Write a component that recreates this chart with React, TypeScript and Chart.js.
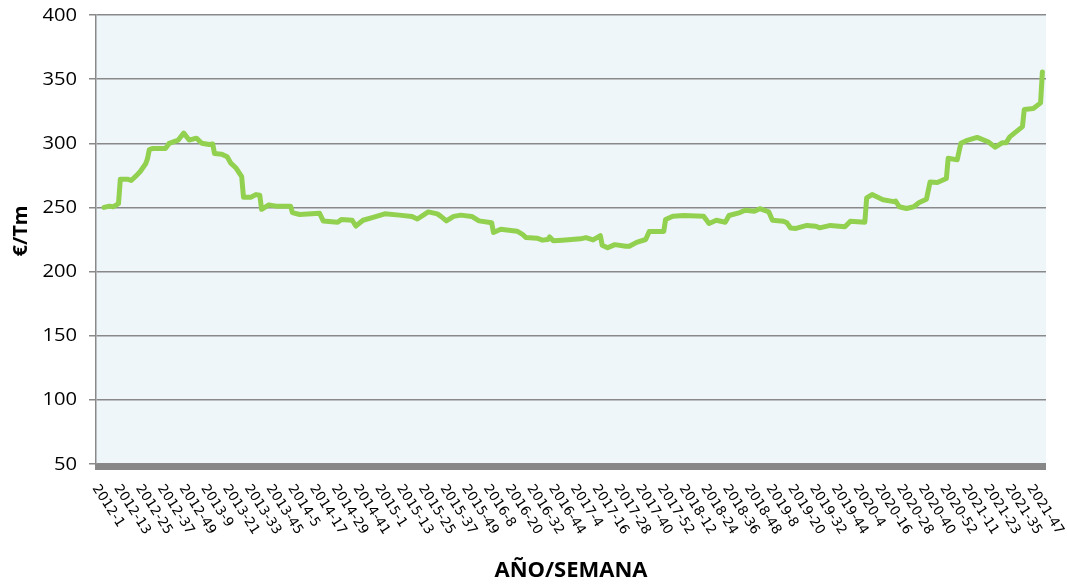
import { useEffect, useRef } from "react";
import { Chart, registerables } from "chart.js";

Chart.register(...registerables);

const tickLabels = [
  "2012-1", "2012-13", "2012-25", "2012-37", "2012-49", "2013-9", "2013-21", "2013-33", "2013-45",
  "2014-5", "2014-17", "2014-29", "2014-41", "2015-1", "2015-13", "2015-25", "2015-37", "2015-49",
  "2016-8", "2016-20", "2016-32", "2016-44", "2017-4", "2017-16", "2017-28", "2017-40", "2017-52",
  "2018-12", "2018-24", "2018-36", "2018-48", "2019-8", "2019-20", "2019-32", "2019-44", "2020-4",
  "2020-16", "2020-28", "2020-40", "2020-52", "2021-11", "2021-23", "2021-35", "2021-47",
];

const weeksPerYear: Record<number, number> = {
  2012: 52, 2013: 52, 2014: 52, 2015: 53, 2016: 52, 2017: 52, 2018: 52, 2019: 52, 2020: 53, 2021: 52,
};

const weeks = [
  "2012-1", "2012-4", "2012-6", "2012-9", "2012-10", "2012-14", "2012-16", "2012-19", "2012-21", "2012-24",
  "2012-25", "2012-26", "2012-28", "2012-35", "2012-37", "2012-42", "2012-45", "2012-48", "2012-52", "2013-3",
  "2013-7", "2013-9", "2013-10", "2013-14", "2013-17", "2013-19", "2013-22", "2013-25", "2013-26", "2013-30",
  "2013-33", "2013-35", "2013-36", "2013-40", "2013-44", "2013-52", "2014-1", "2014-5", "2014-16", "2014-18",
  "2014-26", "2014-28", "2014-34", "2014-36", "2014-40", "2014-46", "2014-52", "2015-8", "2015-15", "2015-18",
  "2015-24", "2015-29", "2015-31", "2015-34", "2015-38", "2015-42", "2015-48", "2015-52", "2016-6", "2016-7",
  "2016-11", "2016-20", "2016-23", "2016-25", "2016-31", "2016-34", "2016-37", "2016-38", "2016-40", "2016-45",
  "2016-50", "2017-3", "2017-6", "2017-10", "2017-14", "2017-15", "2017-18", "2017-22", "2017-28", "2017-30",
  "2017-34", "2017-39", "2017-41", "2017-49", "2017-50", "2018-2", "2018-8", "2018-19", "2018-22", "2018-26",
  "2018-31", "2018-33", "2018-39", "2018-42", "2018-47", "2018-50", "2019-3", "2019-5", "2019-11", "2019-13",
  "2019-15", "2019-18", "2019-24", "2019-29", "2019-31", "2019-37", "2019-45", "2019-48", "2020-4", "2020-5",
  "2020-8", "2020-14", "2020-20", "2020-21", "2020-23", "2020-27", "2020-31", "2020-34", "2020-38", "2020-40",
  "2020-44", "2020-49", "2020-50", "2021-2", "2021-4", "2021-7", "2021-13", "2021-19", "2021-23", "2021-27",
  "2021-29", "2021-31", "2021-38", "2021-39", "2021-44", "2021-48", "2021-49",
];

const prices = [
  250, 251, 250.5, 253, 272, 272, 271, 275, 278, 284,
  288, 295, 296, 296, 300, 302.5, 308, 302.5, 304, 300,
  299, 299.5, 292, 291.5, 289.5, 284.5, 280.5, 274, 258, 258,
  260, 259.5, 248.5, 252, 251, 251, 246, 244.5, 245.5, 239.5,
  238.5, 240.5, 240, 235.5, 240, 242.5, 245, 244, 243, 241,
  246.5, 245, 243, 239.5, 243, 244, 243, 239.5, 238, 230.5,
  233, 231.5, 229, 226.5, 226, 224.5, 225, 227, 224, 224.5,
  225, 225.5, 226.5, 224.7, 228, 220.5, 218.5, 221, 219.7, 219.7,
  222.8, 225, 231.3, 231.3, 240.6, 243.2, 243.7, 243.2, 237.5, 240,
  238.5, 243.7, 246, 247.8, 247, 249, 246.5, 240, 239.3, 238,
  234, 233.6, 236, 235.4, 234.1, 236, 235, 239.3, 238.5, 257.4,
  260, 256, 254.5, 255, 250.5, 249.2, 250.5, 253.8, 256.4, 269.9,
  269.4, 272.5, 288.4, 287.1, 300, 302, 304.6, 301.2, 297, 300.5,
  300.5, 305, 313, 326.4, 327.1, 331.5, 355.5,
];

const yMin = 50;
const yMax = 400;
const yStep = 50;

function weekIndex(label: string): number {
  const [y, w] = label.split("-").map(Number);
  let idx = 0;
  for (let yr = 2012; yr < y; yr++) idx += weeksPerYear[yr];
  return idx + w - 1;
}

const decorPlugin = {
  id: "decor",
  beforeDraw(chart: any) {
    const { ctx, chartArea: a } = chart;
    ctx.save();
    ctx.fillStyle = "#EEF6FA";
    ctx.fillRect(a.left, a.top, a.right - a.left, a.bottom - a.top);
    ctx.restore();
  },
  afterDraw(chart: any) {
    const { ctx, chartArea: a, scales } = chart;
    const xs = scales.x;
    const ys = scales.y;
    ctx.save();
    ctx.fillStyle = "#878787";
    ctx.fillRect(a.left - 1, a.bottom - 0.5, a.right - a.left + 1, 6.5);

    // y tick labels
    ctx.fillStyle = "#000";
    ctx.font = '18px "Open Sans"';
    ctx.textAlign = "right";
    ctx.textBaseline = "middle";
    ys.ticks.forEach((t: any) => {
      const y = ys.getPixelForValue(t.value);
      ctx.save();
      ctx.translate(77, y + 0.5);
      ctx.scale(1.12, 1);
      ctx.fillText(String(t.value), 0, 0);
      ctx.restore();
    });

    // x tick labels
    ctx.font = '13.5px "DejaVu Sans"';
    ctx.textAlign = "left";
    ctx.textBaseline = "middle";
    tickLabels.forEach((l) => {
      const x = xs.getPixelForValue(weekIndex(l)) - 9;
      ctx.save();
      ctx.translate(x, 486);
      ctx.rotate((57 * Math.PI) / 180);
      ctx.fillText(l, 0, 0);
      ctx.restore();
    });

    ctx.font = 'bold 22px "Open Sans"';
    ctx.textAlign = "center";
    ctx.textBaseline = "alphabetic";
    ctx.fillText("AÑO/SEMANA", (a.left + a.right) / 2, 577);
    ctx.save();
    ctx.font = 'bold 20px "Open Sans"';
    ctx.translate(27, 231);
    ctx.rotate(-Math.PI / 2);
    ctx.fillText("€/Tm", 0, 0);
    ctx.restore();
    ctx.restore();
  },
};

export default function App() {
  const ref = useRef<HTMLCanvasElement>(null);
  useEffect(() => {
    document.body.style.margin = "0";
    if (!ref.current) return;
    const points = weeks.map((w, i) => ({ x: weekIndex(w), y: prices[i] }));
    const chart = new Chart(ref.current, {
      type: "line",
      data: {
        datasets: [
          {
            data: points,
            borderColor: "#92D050",
            borderWidth: 5,
            pointRadius: 0,
            tension: 0,
            fill: false,
            borderJoinStyle: "round",
            borderCapStyle: "round",
          },
        ],
      },
      options: {
        animation: false,
        responsive: false,
        layout: { padding: { top: 15, right: 21, left: 0, bottom: 0 } },
        plugins: { legend: { display: false }, tooltip: { enabled: false } },
        scales: {
          x: {
            type: "linear",
            min: -4.42,
            max: 520,
            ticks: { display: false },
            grid: { display: false },
            border: { display: false },
            afterFit: (s: any) => {
              s.height = 124;
              s.paddingLeft = 0;
              s.paddingRight = 0;
            },
          },
          y: {
            min: yMin,
            max: yMax,
            ticks: { stepSize: yStep, display: false },
            grid: { color: "#898989", lineWidth: 1.5, tickLength: 7, drawTicks: true },
            border: { display: true, color: "#898989", width: 1.5 },
            afterFit: (s: any) => {
              s.width = 96;
              s.paddingTop = 0;
              s.paddingBottom = 0;
            },
          },
        },
      },
      plugins: [decorPlugin],
    } as any);
    return () => chart.destroy();
  }, []);
  return (
    <div style={{ width: 1067, height: 588 }}>
      <canvas ref={ref} width={1067} height={588} />
    </div>
  );
}
